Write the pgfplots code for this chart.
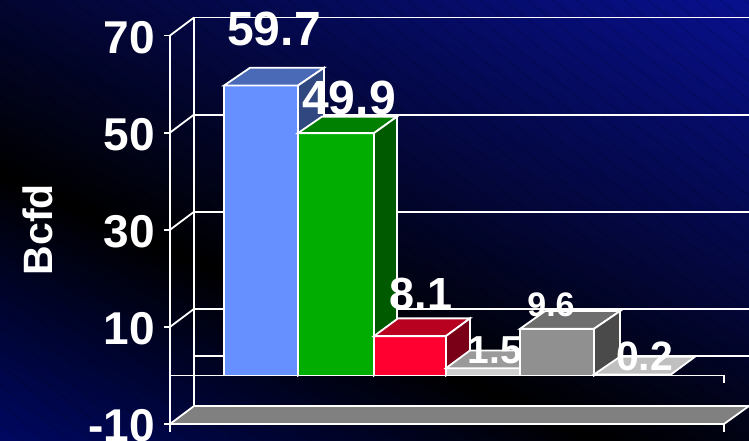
\documentclass[border=0pt]{standalone}
\usepackage{fontspec}
\setmainfont{Liberation Sans}
\usepackage{pgfplots}
\pgfplotsset{compat=1.18}

\definecolor{wallgray}{HTML}{808080}
\definecolor{barAfront}{HTML}{6690FF}
\definecolor{barAtop}{HTML}{4A6AB8}
\definecolor{barAside}{HTML}{30477F}
\definecolor{barBfront}{HTML}{00AD00}
\definecolor{barBtop}{HTML}{008000}
\definecolor{barBside}{HTML}{005A00}
\definecolor{barCfront}{HTML}{FF0030}
\definecolor{barCtop}{HTML}{B80020}
\definecolor{barCside}{HTML}{7A0018}
\definecolor{barDfront}{HTML}{CFCFCF}
\definecolor{barDtop}{HTML}{9A9A9A}
\definecolor{barEfront}{HTML}{909090}
\definecolor{barEtop}{HTML}{6E6E6E}
\definecolor{barEside}{HTML}{4A4A4A}
\definecolor{barFtop}{HTML}{C0C0C0}
\definecolor{bgB}{HTML}{000860}
\definecolor{bgD}{HTML}{08108C}
% background runs navy - black - bright navy
\pgfdeclarehorizontalshading{slidebg}{100bp}{
  color(0bp)=(bgB);
  color(35.4bp)=(bgB);
  color(45.4bp)=(black);
  color(64.6bp)=(bgD);
  color(100bp)=(bgD)}

\newcommand{\lbl}[4]{\node[white,font=\fontsize{#4}{#4}\bfseries\selectfont,inner sep=0pt,anchor=center] at (axis cs:#1,#2) {#3};}

\tikzset{edge/.style={white,line width=1.8pt,line join=miter}}

\begin{document}
\begin{tikzpicture}[x=1pt,y=1pt]
\path[use as bounding box] (0,0) rectangle (749,441);
\clip (0,0) rectangle (749,441);
\shade[shading=slidebg,shading angle=66] (-225,-380) rectangle (975,820);
% faint diagonal stripes
\foreach \i in {-552,-528,...,749} {
  \draw[black,opacity=0.14,line width=1pt] (\i,441) -- (\i+551,0);
}
\begin{axis}[
  at={(170pt,17pt)}, anchor=south west,
  scale only axis, width=554pt, height=388.5pt,
  xmin=170, xmax=724, ymin=-10, ymax=70,
  clip=false,
  separate axis lines,
  axis x line=none,
  axis y line=left,
  axis line style={white,line width=1.8pt,-},
  ytick={-10,10,30,50,70},
  yticklabels={-10,10,30,50,70},
  tick style={white,line width=1.8pt},
  major tick length=6pt,
  tick align=outside,
  yticklabel style={white,font=\fontsize{46}{46}\bfseries\selectfont,inner sep=0pt,xshift=-9pt,yshift=-2pt},
  ylabel={Bcfd},
  every axis y label/.style={at={(axis description cs:-0.238,0.5)},rotate=90,anchor=center,white,inner sep=0pt,font=\fontsize{41}{41}\bfseries\selectfont},
]
% back wall and grid
\addplot[edge] coordinates {(194,-6.3) (194,73.7)};
\addplot[edge] coordinates {(194,73.7) (760,73.7)};
\addplot[edge] coordinates {(194,53.7) (760,53.7)};
\addplot[edge] coordinates {(194,33.7) (760,33.7)};
\addplot[edge] coordinates {(194,13.7) (760,13.7)};
\addplot[edge] coordinates {(194,4) (760,4)};
% side wall diagonals
\addplot[edge] coordinates {(170,70) (194,73.7)};
\addplot[edge] coordinates {(170,50) (194,53.7)};
\addplot[edge] coordinates {(170,30) (194,33.7)};
\addplot[edge] coordinates {(170,10) (194,13.7)};
% floor
\addplot[edge,fill=wallgray] coordinates {(170,-10) (724,-10) (749,-6.3) (194,-6.3)} --cycle;
\addplot[edge] coordinates {(170,-10) (170,-11.6)};
\addplot[edge] coordinates {(724,-10) (724,-11.6)};

% bar 1
\addplot[edge,fill=barAfront] coordinates {(224,0) (224,59.7) (298,59.7) (298,0)} --cycle;
\addplot[edge,fill=barAtop] coordinates {(224,59.7) (250,63.35) (324,63.35) (298,59.7)} --cycle;
\addplot[edge,fill=barAside] coordinates {(298,0) (298,59.7) (324,63.35) (324,3.65)} --cycle;
% bar 2
\addplot[edge,fill=barBfront] coordinates {(298,0) (298,49.9) (374,49.9) (374,0)} --cycle;
\addplot[edge,fill=barBtop] coordinates {(298,49.9) (322,53.3) (397,53.3) (374,49.9)} --cycle;
\addplot[edge,fill=barBside] coordinates {(374,0) (374,49.9) (397,53.3) (397,3.65)} --cycle;
% bar 3
\addplot[edge,fill=barCfront] coordinates {(374,0) (374,8.1) (446,8.1) (446,0)} --cycle;
\addplot[edge,fill=barCtop] coordinates {(374,8.1) (398,11.75) (470,11.75) (446,8.1)} --cycle;
\addplot[edge,fill=barCside] coordinates {(446,0) (446,8.1) (470,11.75) (470,3.65)} --cycle;
% bar 4
\addplot[edge,fill=barDfront] coordinates {(446,0) (446,1.5) (520,1.5) (520,0)} --cycle;
\addplot[edge,fill=barDtop] coordinates {(446,1.5) (470,5.15) (545,5.15) (520,1.5)} --cycle;
% bar 5
\addplot[edge,fill=barEfront] coordinates {(520,0) (520,9.6) (594,9.6) (594,0)} --cycle;
\addplot[edge,fill=barEtop] coordinates {(520,9.6) (545,13.25) (620,13.25) (594,9.6)} --cycle;
\addplot[edge,fill=barEside] coordinates {(594,0) (594,9.6) (620,13.25) (620,3.65)} --cycle;
% bar 6
\addplot[edge,fill=barFtop] coordinates {(594,0.2) (620,3.85) (695,3.85) (671,0.2)} --cycle;

% zero line
\addplot[edge] coordinates {(170,0) (724,0)};
\addplot[edge] coordinates {(724,0) (724,-1.5)};

% values
\lbl{274}{71.4}{59.7}{48}
\lbl{349}{57.1}{49.9}{48}
\lbl{421}{16.8}{8.1}{45}
\lbl{495}{5.2}{1.5}{39}
\lbl{551}{14.5}{9.6}{34}
\lbl{644.5}{4}{0.2}{41}
\end{axis}
\end{tikzpicture}
\end{document}
